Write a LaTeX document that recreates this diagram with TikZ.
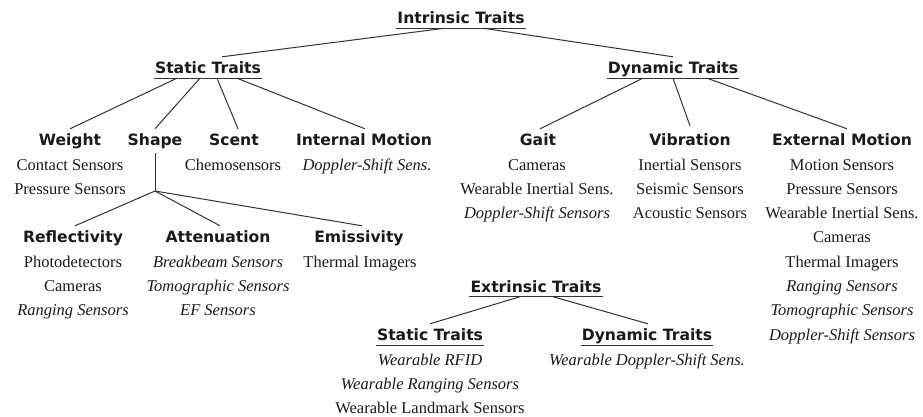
\documentclass[tikz,border=0pt]{standalone}
\usepackage{fontspec}
\setmainfont{Liberation Serif}
\newfontfamily\headfam{DejaVu Sans}
\usepackage{xcolor}
\usetikzlibrary{calc}
\definecolor{BLACK}{HTML}{1A1A1A}
\definecolor{LINE}{HTML}{333333}
\tikzset{
  trait/.style={font=\headfam\bfseries\fontsize{15.6}{18}\selectfont, text=BLACK, anchor=base, text height=12pt, text depth=0pt, inner xsep=1pt, inner ysep=4.5pt},
  group/.style={trait, append after command={(\tikzlastnode.south west) edge[LINE, line width=1.1pt] (\tikzlastnode.south east)}},
  sensors/.style={font=\fontsize{16.5}{24.3}\selectfont, text=BLACK, align=center, anchor=base, inner sep=0pt},
  link/.style={LINE, line width=1pt}
}

\begin{document}
\begin{tikzpicture}[x=1pt,y=-1pt]
    \useasboundingbox (0,0) rectangle (923,417);
    % Groups
    \node[group] (intr) at (461,23.5) {Intrinsic Traits};
    \node[group] (sst) at (208,73.5) {Static Traits};
    \node[group] (dyn) at (673,73.5) {Dynamic Traits};
    \node[group] (extr) at (536,292) {Extrinsic Traits};
    \node[group] (est) at (430,340.5) {Static Traits};
    \node[group] (edyn) at (647,340.5) {Dynamic Traits};
    % Traits
    \node[trait] (weight) at (70,145.5) {Weight};
    \node[trait] (shape) at (155,145.5) {Shape};
    \node[trait] (scent) at (234,145.5) {Scent};
    \node[trait] (inmot) at (364,145.5) {Internal Motion};
    \node[trait] (refl) at (73,242.5) {Reflectivity};
    \node[trait] (atten) at (218,242.5) {Attenuation};
    \node[trait] (emis) at (359,242.5) {Emissivity};
    \node[trait] (gait) at (538,145.5) {Gait};
    \node[trait] (vib) at (690,145.5) {Vibration};
    \node[trait] (extmot) at (842,145.5) {External Motion};
    % Sensors (placed at the baseline of their last line)
    \node[sensors] (weightL) at (70,194.3) {Contact Sensors\\Pressure Sensors};
    \node[sensors] (scentL) at (233,170) {Chemosensors};
    \node[sensors] (inmotL) at (367,170) {\textit{Doppler-Shift Sens.}};
    \node[sensors] (reflL) at (73,315.6) {Photodetectors\\Cameras\\\textit{Ranging Sensors}};
    \node[sensors] (attenL) at (218,315.6) {\textit{Breakbeam Sensors}\\\textit{Tomographic Sensors}\\\textit{EF Sensors}};
    \node[sensors] (emisL) at (360,267) {Thermal Imagers};
    \node[sensors] (gaitL) at (537,218.6) {Cameras\\Wearable Inertial Sens.\\\textit{Doppler-Shift Sensors}};
    \node[sensors] (vibL) at (690,218.6) {Inertial Sensors\\Seismic Sensors\\Acoustic Sensors};
    \node[sensors] (extmotL) at (842,340.1) {Motion Sensors\\Pressure Sensors\\Wearable Inertial Sens.\\Cameras\\Thermal Imagers\\\textit{Ranging Sensors}\\\textit{Tomographic Sensors}\\\textit{Doppler-Shift Sensors}};
    \node[sensors] (estL) at (430,413.6) {\textit{Wearable RFID}\\\textit{Wearable Ranging Sensors}\\Wearable Landmark Sensors};
    \node[sensors] (edynL) at (647,365) {\textit{Wearable Doppler-Shift Sens.}};
    % Top links
    \draw[link] ([xshift=-16pt]intr.south) -- ([xshift=14pt]sst.north);
    \draw[link] ([xshift=22pt]intr.south) -- (dyn.north);
    % Static links
    \draw[link] ([xshift=-31pt]sst.south) -- (weight.north);
    \draw[link] ([xshift=-8pt]sst.south) -- (shape.north);
    \draw[link] ([xshift=9pt]sst.south) -- ([xshift=4pt]scent.north);
    \draw[link] ([xshift=29pt]sst.south) -- ([xshift=1pt]inmot.north);
    % Shape links
    \coordinate (shapeJ) at (155,191);
    \draw[link] ([yshift=-3pt]shape.south) -- (shapeJ);
    \draw[link] (shapeJ) -- ([xshift=2pt]refl.north);
    \draw[link] (shapeJ) -- ([xshift=2pt]atten.north);
    \draw[link] (shapeJ) -- ([xshift=3pt]emis.north);
    % Dynamic links
    \draw[link] ([xshift=-30pt]dyn.south) -- ([xshift=2pt]gait.north);
    \draw[link] (dyn.south) -- ([yshift=3pt]vib.north);
    \draw[link] ([xshift=34pt]dyn.south) -- ([xshift=5pt]extmot.north);
    % Extrinsic links
    \draw[link] ([xshift=-16pt]extr.south) -- (est.north);
    \draw[link] ([xshift=17pt]extr.south) -- ([xshift=1pt]edyn.north);
\end{tikzpicture}
\end{document}
